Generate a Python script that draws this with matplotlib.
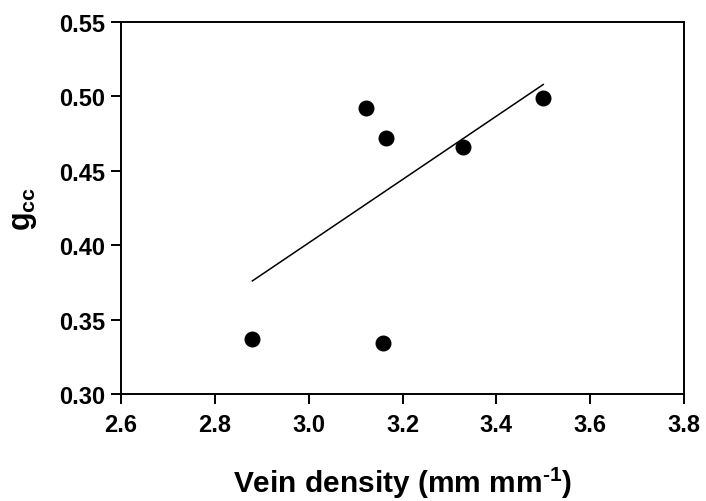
import numpy as np
import matplotlib
matplotlib.use("Agg")
import matplotlib.pyplot as plt

plt.rcParams['font.family'] = 'Liberation Sans'
plt.rcParams['font.weight'] = 'bold'
plt.rcParams['mathtext.fontset'] = 'custom'
plt.rcParams['mathtext.rm'] = 'Liberation Sans:bold'
plt.rcParams['mathtext.bf'] = 'Liberation Sans:bold'
plt.rcParams['mathtext.it'] = 'Liberation Sans:bold'
plt.rcParams['axes.unicode_minus'] = False

# data
vein_density = [2.880, 3.122, 3.164, 3.330, 3.500, 3.159]
gcc = [0.337, 0.492, 0.472, 0.466, 0.499, 0.334]

# fitted line end points
fit_x = [2.880, 3.500]
fit_y = [0.376, 0.508]

x_ticks = [2.6, 2.8, 3.0, 3.2, 3.4, 3.6, 3.8]
y_ticks = [0.30, 0.35, 0.40, 0.45, 0.50, 0.55]

fig = plt.figure(figsize=(7.06, 5.02), dpi=100)
ax = fig.add_axes([121/706, 1 - 395/502, (684-121)/706, (395-23)/502])

ax.plot(fit_x, fit_y, color='black', lw=1.1)
ax.plot(vein_density, gcc, 'o', color='black', markersize=10.5, clip_on=False)

ax.set_xlim(2.6, 3.8)
ax.set_ylim(0.30, 0.55)
ax.set_xticks(x_ticks)
ax.set_yticks(y_ticks)
ax.set_xticklabels([f"{v:.1f}" for v in x_ticks])
ax.set_yticklabels([f"{v:.2f}" for v in y_ticks])

for s in ax.spines.values():
    s.set_linewidth(1.4)
ax.tick_params(direction='out', length=7.5, width=1.4, labelsize=17, pad=4)
ax.tick_params(axis='x', pad=6)

ax.set_xlabel(r'Vein density (mm mm$^{\text{-}1}$)', fontsize=21.5, fontweight='bold', labelpad=21)
ax.set_ylabel(r'$\mathbf{g_{cc}}$', fontsize=22, labelpad=14)

fig.savefig('out.png', dpi=100)
